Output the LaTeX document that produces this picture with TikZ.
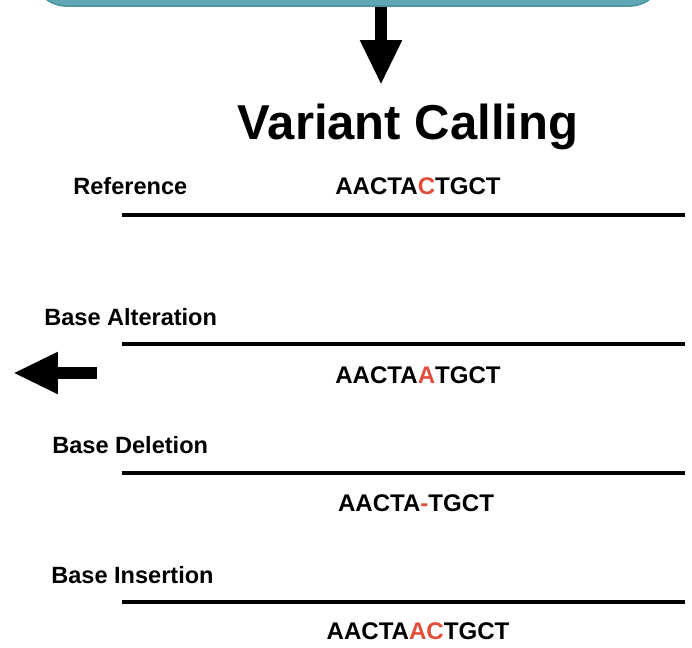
\documentclass[tikz,border=0pt]{standalone}
\usepackage{fontspec}
\setmainfont{Liberation Sans}
\usetikzlibrary{arrows.meta,positioning}

\definecolor{boxteal}{RGB}{96,168,181}
\definecolor{boxedge}{RGB}{78,150,164}
\definecolor{varred}{RGB}{226,78,58}

\begin{document}
\begin{tikzpicture}[
			x=0.02cm, y=-0.02cm,
			title/.style={font={\fontsize{27.9}{30}\selectfont\bfseries}, inner sep=0, anchor=base},
			kind/.style={font={\fontsize{13.4}{15}\selectfont\bfseries}, inner sep=0, anchor=base west},
			seq/.style={font={\fontsize{13.7}{15}\selectfont\bfseries}, inner sep=0, anchor=base},
			strand/.style={line width=1.9pt},
			bigarrow/.style={line width=0.24cm, -{Triangle[width=0.78cm,length=0.9cm]}}
	]
	\useasboundingbox (0,0) rectangle (692,648);
	\begin{scope}
		\clip (0,0) rectangle (692,648);
		\draw[boxedge, fill=boxteal, line width=1pt, rounded corners=0.7cm] (32,-60) rectangle (664,6);
	\end{scope}
	\coordinate (box) at (381,7);

	\node[title] (vc) at (408,140) {Variant Calling};
	\draw[bigarrow] (box) -- (381,85);

% reference strand
	\node[kind] (reflab) at (73,195) {Reference};
	\node[seq] (refseq) at (418,195) {AACTA\textcolor{varred}{C}TGCT};
	\draw[strand] (122,215) -- (685,215);

% variants
	\node[kind] (altlab) at (44,325) {Base Alteration};
	\draw[strand] (122,344) -- (685,344);
	\node[seq] (altseq) at (418,383) {AACTA\textcolor{varred}{A}TGCT};
	\coordinate (out) at (13,373);
	\draw[bigarrow] (97,373) -- (out);

	\node[kind] (dellab) at (52,453) {Base Deletion};
	\draw[strand] (122,473) -- (685,473);
	\node[seq] (delseq) at (416,511) {AACTA\textcolor{varred}{-}TGCT};

	\node[kind] (inslab) at (51,583) {Base Insertion};
	\draw[strand] (122,602) -- (685,602);
	\node[seq] (insseq) at (418,639) {AACTA\textcolor{varred}{AC}TGCT};
\end{tikzpicture}
\end{document}
